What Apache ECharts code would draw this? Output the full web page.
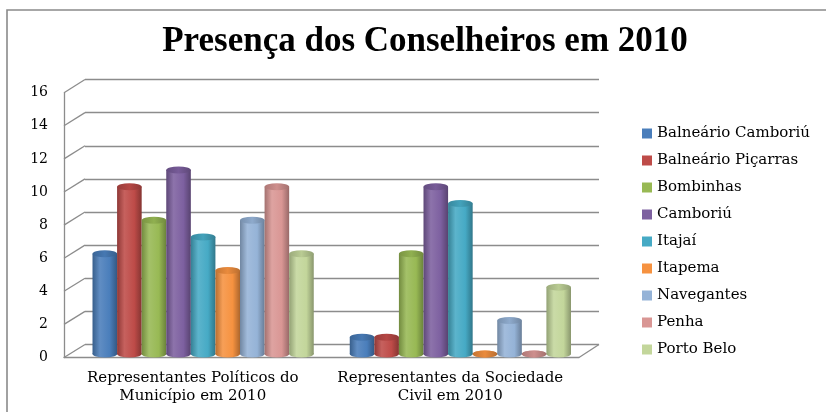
<!DOCTYPE html>
<html>
<head>
<meta charset="utf-8">
<script src="https://cdn.jsdelivr.net/npm/echarts@6/dist/echarts.min.js"></script>
<style>
html,body{margin:0;padding:0;background:#fff;}
#c{width:826px;height:412px;}
</style>
</head>
<body>
<div id="c"></div>
<script>
var categories = ['Representantes Políticos do\nMunicípio em 2010', 'Representantes da Sociedade\nCivil em 2010'];
var cities = ['Balneário Camboriú', 'Balneário Piçarras', 'Bombinhas', 'Camboriú', 'Itajaí', 'Itapema', 'Navegantes', 'Penha', 'Porto Belo'];
var politicos = [6, 10, 8, 11, 7, 5, 8, 10, 6];
var sociedade = [1, 1, 6, 10, 9, 0, 2, 0, 4];
var yTicks = [0, 2, 4, 6, 8, 10, 12, 14, 16];
var colors = ['#4A7EBB', '#BE4B48', '#98B954', '#7D60A0', '#46AAC5', '#F69240', '#95B3D7', '#D99694', '#C3D69B'];

function shade(hex, f) {
  var r = parseInt(hex.substr(1, 2), 16), g = parseInt(hex.substr(3, 2), 16), b = parseInt(hex.substr(5, 2), 16);
  function c(v) { v = f < 0 ? v * (1 + f) : v + (255 - v) * f; return Math.max(0, Math.min(255, Math.round(v))); }
  return 'rgb(' + c(r) + ',' + c(g) + ',' + c(b) + ')';
}
function bodyGrad(hex) {
  return new echarts.graphic.LinearGradient(0, 0, 1, 0, [
    { offset: 0, color: shade(hex, -0.25) },
    { offset: 0.3, color: shade(hex, 0.12) },
    { offset: 0.7, color: hex },
    { offset: 1, color: shade(hex, -0.3) }
  ]);
}
function capGrad(hex) {
  return new echarts.graphic.LinearGradient(0, 0, 1, 0, [
    { offset: 0, color: shade(hex, -0.2) },
    { offset: 0.5, color: shade(hex, -0.05) },
    { offset: 1, color: shade(hex, -0.25) }
  ]);
}

var FRONT = { left: 64, right: 247, top: 92.7, bottom: 54.5 };
var BACK = { left: 85, right: 227, top: 79.5, bottom: 67.5 };
var BARS = { left: 74.5, right: 237, top: 86.5, bottom: 58 };

var chart = echarts.init(document.getElementById('c'), null, { renderer: 'canvas' });

var series = [];
cities.forEach(function (name, i) {
  var vals = [politicos[i], sociedade[i]];
  series.push({
    type: 'bar', name: name, xAxisIndex: 2, yAxisIndex: 2,
    data: vals, barGap: '0%', barCategoryGap: '14%',
    itemStyle: { color: bodyGrad(colors[i]) }, z: 3
  });
  series.push({
    type: 'pictorialBar', name: name, xAxisIndex: 2, yAxisIndex: 2,
    data: vals, barGap: '0%', barCategoryGap: '14%',
    symbol: 'circle', symbolSize: ['100%', 7], symbolPosition: 'end', symbolOffset: [0, '-50%'],
    itemStyle: { color: capGrad(colors[i]) }, z: 4
  });
  series.push({
    type: 'pictorialBar', name: name, xAxisIndex: 3, yAxisIndex: 3,
    data: vals, barGap: '0%', barCategoryGap: '14%',
    symbol: 'circle', symbolSize: ['100%', 7], symbolPosition: 'start', symbolOffset: [0, '50%'],
    itemStyle: { color: bodyGrad(colors[i]) }, z: 2
  });
});

var serif = 'Liberation Serif';
var wide = 'DejaVu Serif';
var option = {
  animation: false,
  backgroundColor: '#fff',
  title: {
    text: 'Presença dos Conselheiros em 2010', left: 420, top: 19, textAlign: 'center',
    textStyle: { fontFamily: serif, fontWeight: 'bold', fontSize: 35, color: '#000' }
  },
  legend: {
    orient: 'vertical', left: 637, top: 121, itemGap: 12, itemWidth: 10, itemHeight: 10, icon: 'rect',
    textStyle: { fontFamily: wide, fontSize: 15, color: '#000' },
    data: cities.map(function (n, i) { return { name: n, itemStyle: { color: colors[i] } }; })
  },
  grid: [
    { left: FRONT.left, right: FRONT.right, top: FRONT.top, bottom: FRONT.bottom },
    { left: BACK.left, right: BACK.right, top: BACK.top, bottom: BACK.bottom },
    { left: BARS.left, right: BARS.right, top: BARS.top, bottom: BARS.bottom },
    { left: BARS.left, right: BARS.right, top: BARS.top, bottom: BARS.bottom }
  ],
  xAxis: [
    { type: 'category', gridIndex: 0, data: categories,
      axisLine: { show: true, lineStyle: { color: '#8c8c8c', width: 1.3 } }, axisTick: { show: false },
      axisLabel: { fontFamily: wide, fontSize: 15, color: '#000', margin: 12, lineHeight: 18, interval: 0 } },
    { type: 'category', gridIndex: 1, data: categories, show: false },
    { type: 'category', gridIndex: 2, data: categories, show: false },
    { type: 'category', gridIndex: 3, data: categories, show: false }
  ],
  yAxis: [
    { type: 'value', gridIndex: 0, min: 0, max: 16, interval: 2,
      axisLine: { show: true, lineStyle: { color: '#8c8c8c', width: 1.3 } }, axisTick: { show: false },
      splitLine: { show: false },
      axisLabel: { fontFamily: wide, fontSize: 14, color: '#000', margin: 16,
        formatter: function (v) { return yTicks.indexOf(v) >= 0 ? String(v) : ''; } } },
    { type: 'value', gridIndex: 1, min: 0, max: 16, interval: 2,
      axisLine: { show: false }, axisTick: { show: false }, axisLabel: { show: false },
      splitLine: { show: true, lineStyle: { color: '#8c8c8c', width: 1.3 } } },
    { type: 'value', gridIndex: 2, min: 0, max: 16, show: false, splitLine: { show: false } },
    { type: 'value', gridIndex: 3, min: 0, max: 16, show: false, splitLine: { show: false } }
  ],
  series: series
};
chart.setOption(option);

// 3D wall connectors (decoration), positioned via the axes' own scales
var W = 826, H = 412;
var lines = [];
var frontX = FRONT.left, backX = BACK.left;
yTicks.forEach(function (v) {
  var yf = chart.convertToPixel({ yAxisIndex: 0 }, v);
  var yb = chart.convertToPixel({ yAxisIndex: 1 }, v);
  lines.push({ type: 'line', shape: { x1: frontX, y1: yf, x2: backX, y2: yb },
    style: { stroke: '#8c8c8c', lineWidth: 1.3 }, z: 1 });
});
var yf0 = chart.convertToPixel({ yAxisIndex: 0 }, 0);
var yb0 = chart.convertToPixel({ yAxisIndex: 1 }, 0);
lines.push({ type: 'line', shape: { x1: W - FRONT.right, y1: yf0, x2: W - BACK.right, y2: yb0 },
  style: { stroke: '#8c8c8c', lineWidth: 1.3 }, z: 1 });
lines.push({ type: 'rect', shape: { x: 7, y: 10, width: 840, height: 430 },
  style: { stroke: '#8a8a8a', lineWidth: 1.6, fill: 'none' }, z: 0 });
chart.setOption({ graphic: { elements: lines } });
</script>
</body>
</html>
